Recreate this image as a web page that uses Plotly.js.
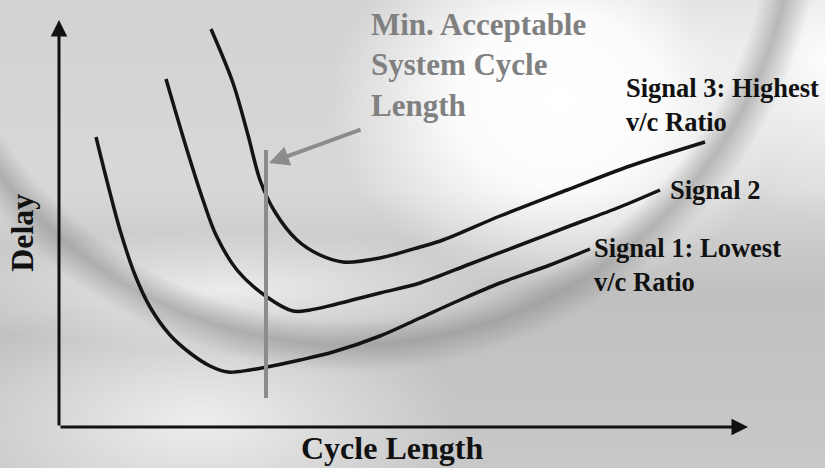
<!DOCTYPE html>
<html>
<head>
<meta charset="utf-8">
<script src="https://cdn.plot.ly/plotly-3.0.1.min.js"></script>
<style>
  html, body { margin: 0; padding: 0; }
  #chart {
    width: 825px; height: 468px;
    background:
      radial-gradient(circle at 350px -100px, rgba(255,255,255,0) 420px, rgba(140,140,140,0.55) 445px, rgba(255,255,255,0) 472px),
      radial-gradient(ellipse 230px 190px at 560px 100px, #ffffff 0%, rgba(255,255,255,0.92) 45%, rgba(255,255,255,0) 100%),
      radial-gradient(ellipse 140px 160px at 820px 60px, rgba(255,255,255,0.95) 0%, rgba(255,255,255,0) 100%),
      radial-gradient(ellipse 320px 60px at 230px 290px, rgba(255,255,255,0.7) 0%, rgba(255,255,255,0) 100%),
      radial-gradient(ellipse 260px 120px at 200px 420px, rgba(255,255,255,0.7) 0%, rgba(255,255,255,0) 100%),
      linear-gradient(180deg, #d2d2d2 0%, #d8d8d8 40%, #c0c0c0 62%, #c8c8c8 100%);
  }
</style>
</head>
<body>
<div id="chart"></div>
<script>
// Cycle length (arbitrary units) and delay (arbitrary units)
const signal1X = [39.25, 42.25, 45.25, 49, 52.75, 57.75, 62.75, 67.75, 72.25, 77.75, 82, 90.25, 98.5, 110.25, 120.25, 130.25, 140.25, 152.75, 162.75];
const signal1Y = [72.5, 60.5, 49.25, 38, 30, 23, 18.5, 15.25, 13.75, 14.25, 15, 16.75, 18.75, 22.75, 27.25, 31.75, 36, 40.5, 44.5];

const signal2X = [56.75, 62, 66, 69.25, 74.5, 82, 88.5, 92.75, 98.5, 110.25, 120.25, 132.75, 145.25, 157, 170.25, 180.25];
const signal2Y = [87, 69.25, 56.75, 48, 39.25, 32.5, 29, 29.25, 30.5, 33.5, 36, 40.75, 45.5, 50, 55, 59.25];

const signal3X = [68, 73.5, 77.25, 80.25, 84, 89.5, 95.25, 101, 110.25, 120.25, 126, 140.25, 157, 172.75, 191.5];
const signal3Y = [99.5, 86, 73, 61.75, 53.75, 46.75, 43, 41.25, 42.25, 45, 46.75, 52.75, 59.25, 65.25, 71.25];

const minCycleX = [81.75, 81.75];
const minCycleY = [7.25, 69.25];

const curveNames = ['Signal 1: Lowest v/c Ratio', 'Signal 2', 'Signal 3: Highest v/c Ratio'];
const axisTitles = ['Cycle Length', 'Delay'];

const serif = 'Liberation Serif';

function curve(x, y, name) {
  return {x: x, y: y, name: name, type: 'scatter', mode: 'lines',
    line: {color: '#141414', width: 3.5, shape: 'spline', smoothing: 0.9},
    hoverinfo: 'skip', showlegend: false};
}

const data = [
  curve(signal1X, signal1Y, curveNames[0]),
  curve(signal2X, signal2Y, curveNames[1]),
  curve(signal3X, signal3Y, curveNames[2]),
  {x: minCycleX, y: minCycleY, type: 'scatter', mode: 'lines', name: 'Min. Acceptable System Cycle Length',
   line: {color: '#8c8c8c', width: 4}, hoverinfo: 'skip', showlegend: false}
];

const xr = [30, 202.25];
const yr = [0, 101.75];

const layout = {
  width: 825, height: 468,
  margin: {l: 59, r: 77, t: 20, b: 41, pad: 0},
  paper_bgcolor: 'rgba(0,0,0,0)',
  plot_bgcolor: 'rgba(0,0,0,0)',
  showlegend: false,
  font: {family: serif},
  xaxis: {range: xr, showgrid: false, zeroline: false, showticklabels: false, ticks: '', showline: false, fixedrange: true},
  yaxis: {range: yr, showgrid: false, zeroline: false, showticklabels: false, ticks: '', showline: false, fixedrange: true},
  annotations: [
    // axes with arrowheads
    {x: xr[0], y: yr[1], ax: xr[0], ay: yr[0], xref: 'x', yref: 'y', axref: 'x', ayref: 'y',
     text: '', showarrow: true, arrowhead: 2, arrowsize: 1.1, arrowwidth: 3, arrowcolor: '#111'},
    {x: xr[1], y: yr[0], ax: xr[0], ay: yr[0], xref: 'x', yref: 'y', axref: 'x', ayref: 'y',
     text: '', showarrow: true, arrowhead: 2, arrowsize: 1.1, arrowwidth: 3, arrowcolor: '#111'},
    // pointer to min cycle line
    {x: 82.5, y: 66, ax: 105.75, ay: 74.5, xref: 'x', yref: 'y', axref: 'x', ayref: 'y',
     text: '', showarrow: true, arrowhead: 2, arrowsize: 1, arrowwidth: 4, arrowcolor: '#8c8c8c'},
    // texts
    {x: 107.5, y: 90.6, xref: 'x', yref: 'y', xanchor: 'left', yanchor: 'middle', align: 'left', showarrow: false,
     text: '<b>Min. Acceptable<br>System Cycle<br>Length</b>', font: {family: serif, size: 31, color: '#808080'}},
    {x: 171.25, y: 80.5, xref: 'x', yref: 'y', xanchor: 'left', yanchor: 'middle', align: 'left', showarrow: false,
     text: '<b>Signal 3: Highest<br>v/c Ratio</b>', font: {family: serif, size: 26.5, color: '#111'}},
    {x: 182.25, y: 59.25, xref: 'x', yref: 'y', xanchor: 'left', yanchor: 'middle', align: 'left', showarrow: false,
     text: '<b>Signal 2</b>', font: {family: serif, size: 26.5, color: '#111'}},
    {x: 163.25, y: 40.4, xref: 'x', yref: 'y', xanchor: 'left', yanchor: 'middle', align: 'left', showarrow: false,
     text: '<b>Signal 1: Lowest<br>v/c Ratio</b>', font: {family: serif, size: 26.5, color: '#111'}},
    {x: 0.483, y: -0.052, xref: 'paper', yref: 'paper', xanchor: 'center', yanchor: 'middle', showarrow: false,
     text: '<b>' + axisTitles[0] + '</b>', font: {family: serif, size: 32, color: '#111'}},
    {x: -0.0537, y: 0.477, xref: 'paper', yref: 'paper', xanchor: 'center', yanchor: 'middle', showarrow: false, textangle: -90,
     text: '<b>' + axisTitles[1] + '</b>', font: {family: serif, size: 32, color: '#111'}}
  ]
};

Plotly.newPlot('chart', data, layout, {displayModeBar: false, staticPlot: true});
</script>
</body>
</html>
